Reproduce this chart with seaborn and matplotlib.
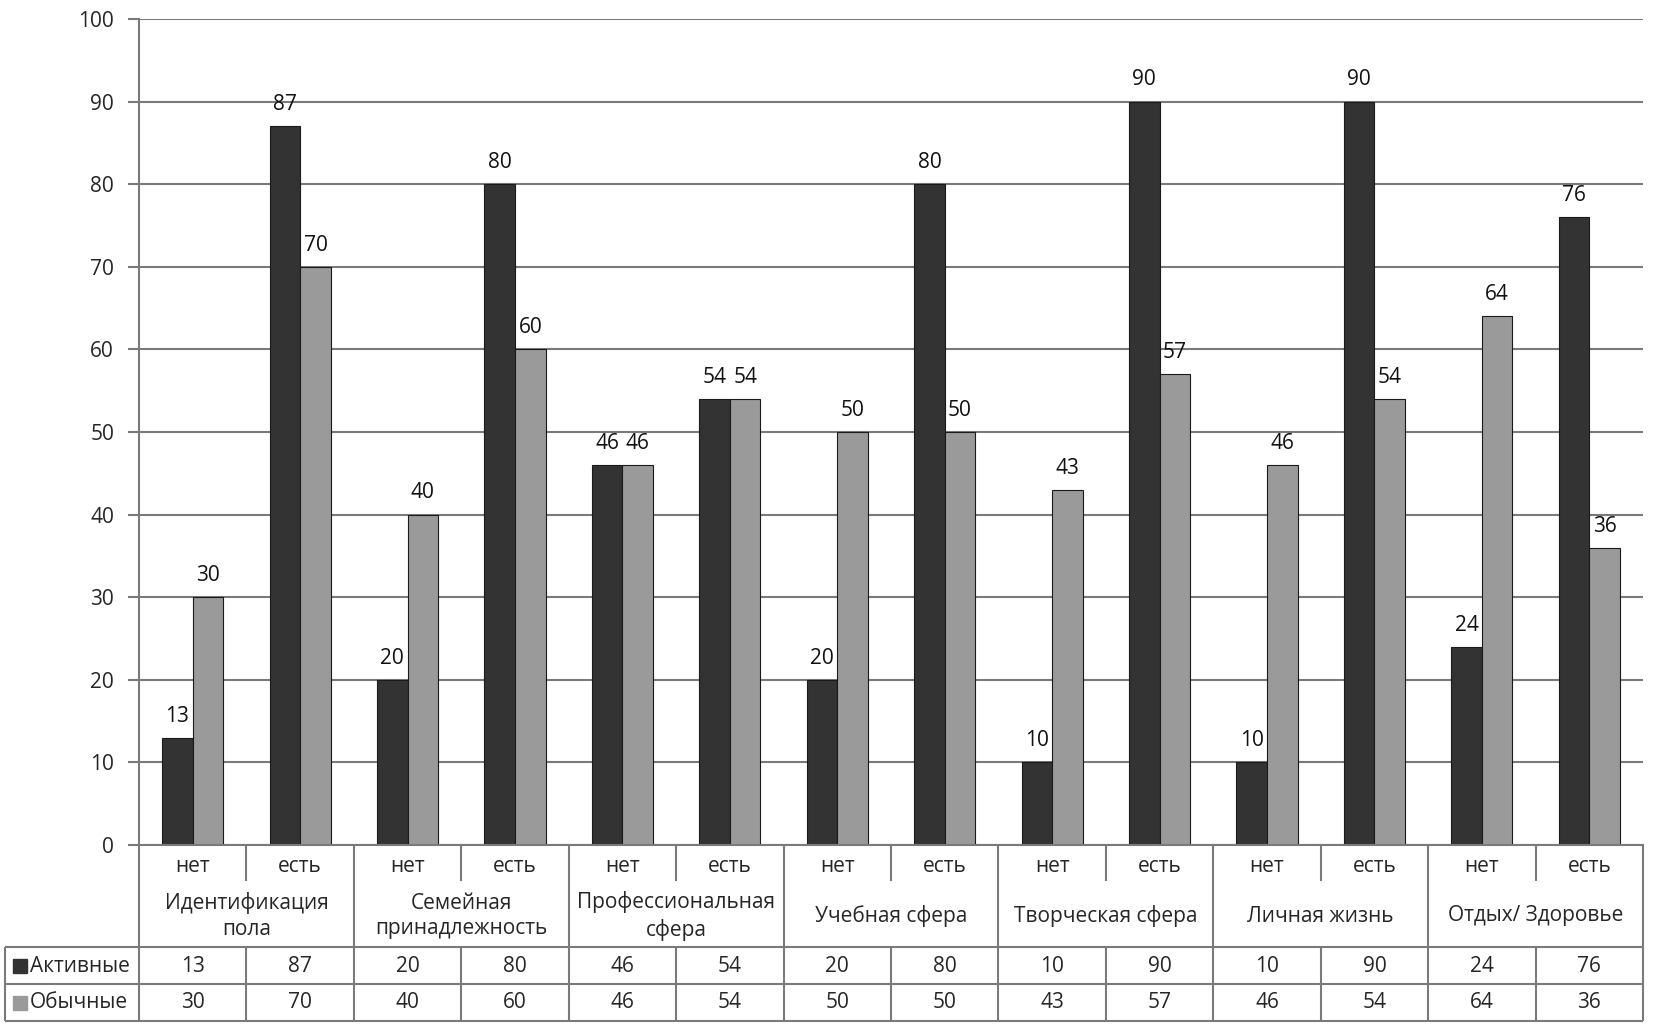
import matplotlib
matplotlib.use("Agg")
import matplotlib.pyplot as plt
import matplotlib.transforms as mtransforms
import numpy as np
import pandas as pd
import seaborn as sns

categories = ["Идентификация\nпола", "Семейная\nпринадлежность", "Профессиональная\nсфера",
              "Учебная сфера", "Творческая сфера", "Личная жизнь", "Отдых/ Здоровье"]
sub_labels = ["нет", "есть"]
series = ["Активные", "Обычные"]
active = [13, 87, 20, 80, 46, 54, 20, 80, 10, 90, 10, 90, 24, 76]
usual = [30, 70, 40, 60, 46, 54, 50, 50, 43, 57, 46, 54, 64, 36]
colors = ["#333333", "#9a9a9a"]
y_ticks = list(range(0, 101, 10))

W, H = 1654, 1030
GRID = "#7a7a7a"
FS = 15

sns.set_style("white")
plt.rcParams["font.family"] = ["Open Sans", "DejaVu Sans"]
plt.rcParams["font.size"] = FS

slots = [f"{c}|{s}" for c in categories for s in sub_labels]
df = pd.DataFrame({
    "slot": slots * 2,
    "value": active + usual,
    "series": [series[0]] * len(slots) + [series[1]] * len(slots),
})

fig = plt.figure(figsize=(W / 100, H / 100), dpi=100)
ax_l, ax_r, ax_t, ax_b = 139, 1643, 19, 845
ax = fig.add_axes([ax_l / W, 1 - ax_b / H, (ax_r - ax_l) / W, (ax_b - ax_t) / H])

sns.barplot(data=df, x="slot", y="value", hue="series", order=slots,
            hue_order=series, palette=colors, width=0.57, saturation=1,
            edgecolor="#1a1a1a", linewidth=0.8, legend=False, ax=ax)

for cont in ax.containers:
    ax.bar_label(cont, padding=8, fontsize=FS, color="#111111")

n = len(slots)
ax.set_xlim(-0.5, n - 0.5)
ax.set_ylim(0, 100)
ax.set_yticks(y_ticks)
ax.set_xticks([])
ax.set_xlabel("")
ax.set_ylabel("")
ax.yaxis.grid(True, color=GRID, lw=1.5)
ax.set_axisbelow(True)
for s in ["top", "right"]:
    ax.spines[s].set_visible(False)
for s in ["left", "bottom"]:
    ax.spines[s].set_color(GRID)
    ax.spines[s].set_linewidth(1.5)
ax.tick_params(axis="y", length=8, width=1.5, color=GRID, pad=10,
               labelsize=FS, left=True)

# table under the axis
tr = mtransforms.blended_transform_factory(ax.transData, fig.transFigure)


def px_x(px):
    return -0.5 + (px - ax_l) / (ax_r - ax_l) * n


def fy(py):
    return 1 - py / H


def line(x0, x1, y0, y1):
    ax.plot([x0, x1], [fy(y0), fy(y1)], transform=tr, clip_on=False,
            color=GRID, lw=1.5, solid_capstyle="butt")


x_left = px_x(5)
x_end = n - 0.5
row_sub, row_cat, row_a, row_b = 881, 947, 984, 1021

for y in [row_cat, row_a, row_b]:
    line(x_left, x_end, y, y)
line(x_left, x_left, row_cat, row_b)
for k in range(0, n + 1, 2):
    line(k - 0.5, k - 0.5, ax_b, row_b)
for k in range(1, n, 2):
    line(k - 0.5, k - 0.5, ax_b, row_sub)
    line(k - 0.5, k - 0.5, row_cat, row_b)

for i, s in enumerate(slots):
    ax.text(i, fy(866), sub_labels[i % 2], transform=tr, ha="center",
            va="center", fontsize=FS)
    ax.text(i, fy(966), str(active[i]), transform=tr, ha="center",
            va="center", fontsize=FS)
    ax.text(i, fy(1003), str(usual[i]), transform=tr, ha="center",
            va="center", fontsize=FS)
for j, c in enumerate(categories):
    ax.text(2 * j + 0.5, fy(916), c, transform=tr, ha="center", va="center",
            fontsize=FS, linespacing=1.3)

for y, name, col in [(966, series[0], colors[0]), (1003, series[1], colors[1])]:
    fig.patches.append(plt.Rectangle((13 / W, fy(y + 7)), 14 / W, 14 / H,
                                     transform=fig.transFigure, color=col))
    fig.text(30 / W, fy(y), name, ha="left", va="center", fontsize=FS)

fig.savefig("out.png", dpi=100)
